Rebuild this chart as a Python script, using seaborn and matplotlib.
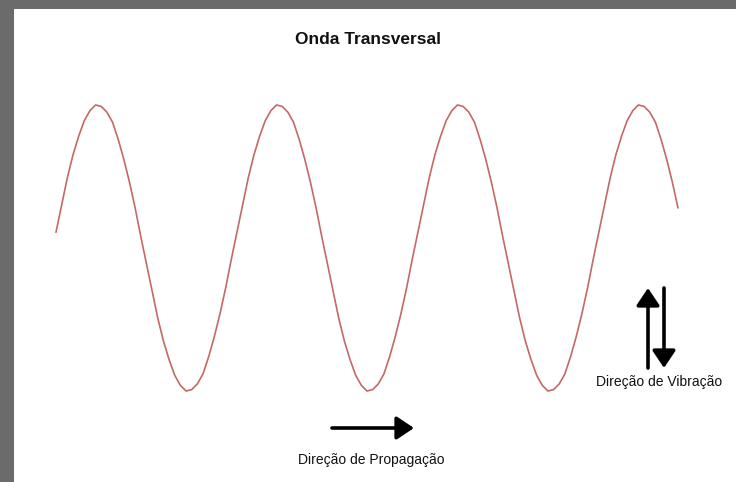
import numpy as np
import pandas as pd
import matplotlib
matplotlib.use("Agg")
import matplotlib.pyplot as plt
import seaborn as sns

# wave: position (in wavelengths) and displacement (-1..1)
step = 1 / 32
displacement = [
    0.11, 0.30, 0.49, 0.65, 0.78, 0.89, 0.96, 1.00, 0.99, 0.95, 0.88, 0.76, 0.62, 0.46, 0.28, 0.08,
    -0.11, -0.30, -0.49, -0.65, -0.78, -0.89, -0.96, -1.00, -0.99, -0.95, -0.88, -0.76, -0.62, -0.46, -0.28, -0.08,
    0.11, 0.30, 0.49, 0.65, 0.78, 0.89, 0.96, 1.00, 0.99, 0.95, 0.88, 0.76, 0.62, 0.46, 0.28, 0.08,
    -0.11, -0.30, -0.49, -0.65, -0.78, -0.89, -0.96, -1.00, -0.99, -0.95, -0.88, -0.76, -0.62, -0.46, -0.28, -0.08,
    0.11, 0.30, 0.49, 0.65, 0.78, 0.89, 0.96, 1.00, 0.99, 0.95, 0.88, 0.76, 0.62, 0.46, 0.28, 0.08,
    -0.11, -0.30, -0.49, -0.65, -0.78, -0.89, -0.96, -1.00, -0.99, -0.95, -0.88, -0.76, -0.62, -0.46, -0.28, -0.08,
    0.11, 0.30, 0.49, 0.65, 0.78, 0.89, 0.96, 1.00, 0.99, 0.95, 0.88, 0.76, 0.62, 0.46, 0.28,
]
position = [i * step for i in range(len(displacement))]

title = "Onda Transversal"
label_propagation = "Direção de Propagação"
label_vibration = "Direção de Vibração"

sns.set_style("white")
plt.rcParams["font.family"] = ["Liberation Sans", "DejaVu Sans"]

W, H = 736, 482
fig = plt.figure(figsize=(W / 100, H / 100), dpi=100, facecolor="#6b6b6b")

# white slide panel
ax = fig.add_axes([14 / W, 0, (W - 14) / W, (H - 9) / H])
ax.set_facecolor("white")
for s in ax.spines.values():
    s.set_visible(False)

df = pd.DataFrame({"x": position, "y": displacement})
sns.lineplot(data=df, x="x", y="y", ax=ax, color="#c46868", linewidth=1.2)
ax.set_xlim(-0.232, 3.758)
ax.set_ylim(-1.636, 1.671)
ax.set(xlabel="", ylabel="", xticks=[], yticks=[])


def fp(px, py):
    # figure pixel (from top-left) to figure fraction
    return (px / W, 1 - py / H)


fig.text(*fp(368, 40), title, ha="center", va="center", fontsize=12.5, fontweight="bold",
         color="#111111")
fig.text(*fp(371, 460), label_propagation, ha="center", va="center", fontsize=10,
         color="#111111")
fig.text(*fp(659, 382), label_vibration, ha="center", va="center", fontsize=10,
         color="#111111")

arrow = dict(arrowstyle="-|>,head_length=0.75,head_width=0.5", lw=2.6, color="black",
             mutation_scale=14, shrinkA=0, shrinkB=0)
ax.annotate("", xy=fp(414, 428), xytext=fp(332, 428), xycoords="figure fraction",
            textcoords="figure fraction", arrowprops=arrow)
ax.annotate("", xy=fp(648, 288), xytext=fp(648, 368), xycoords="figure fraction",
            textcoords="figure fraction", arrowprops=arrow)
ax.annotate("", xy=fp(664, 368), xytext=fp(664, 288), xycoords="figure fraction",
            textcoords="figure fraction", arrowprops=arrow)

fig.savefig("out.png", dpi=100, facecolor=fig.get_facecolor())
